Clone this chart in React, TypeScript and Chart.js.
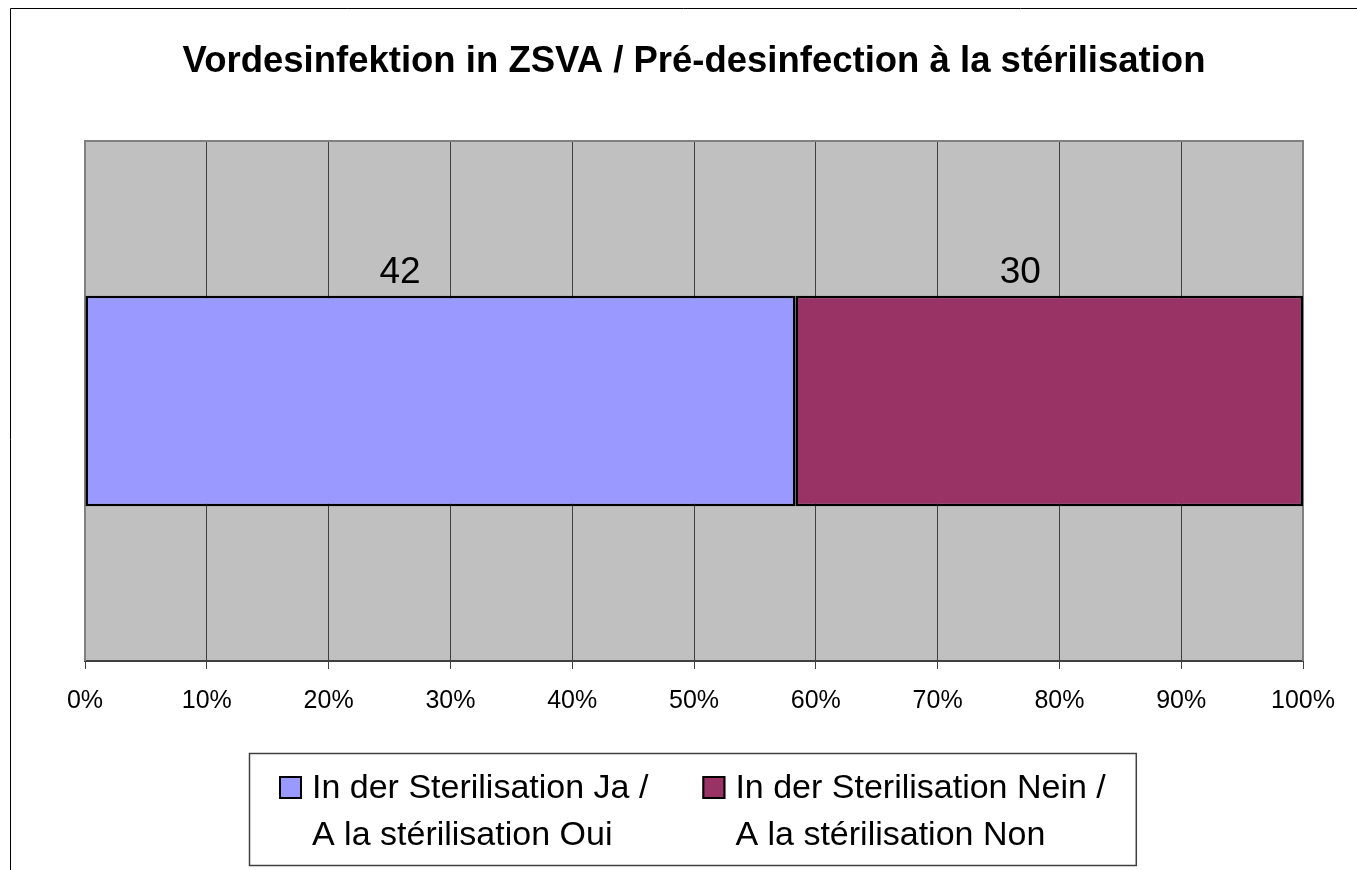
import React, { useEffect, useRef } from "react";
import { Chart, registerables } from "chart.js";

Chart.register(...registerables);

const titleText = "Vordesinfektion in ZSVA / Pré-desinfection à la stérilisation";
const categories = [""];
const seriesLabels = [
  ["In der Sterilisation Ja /", "A la stérilisation Oui"],
  ["In der Sterilisation Nein /", "A la stérilisation Non"],
];
const seriesValues = [42, 30];
const seriesColors = ["#9999FF", "#993366"];
const xTickLabels = ["0%", "10%", "20%", "30%", "40%", "50%", "60%", "70%", "80%", "90%", "100%"];

const FONT = "'Liberation Sans', Arial, sans-serif";

const total = seriesValues.reduce((a, b) => a + b, 0);

const decorPlugin = {
  id: "decor",
  beforeDraw(chart: any) {
    const { ctx, chartArea: a } = chart;
    ctx.save();
    ctx.fillStyle = "#ffffff";
    ctx.fillRect(0, 0, chart.width, chart.height);
    ctx.strokeStyle = "#000000";
    ctx.lineWidth = 1;
    ctx.beginPath();
    ctx.moveTo(10.5, chart.height);
    ctx.lineTo(10.5, 8.5);
    ctx.lineTo(chart.width, 8.5);
    ctx.stroke();
    ctx.fillStyle = "#C0C0C0";
    ctx.fillRect(a.left, a.top, a.right - a.left, a.bottom - a.top);
    ctx.restore();
  },
  beforeDatasetsDraw(chart: any) {
    const { ctx, chartArea: a } = chart;
    ctx.save();
    ctx.strokeStyle = "#808080";
    ctx.lineWidth = 2;
    ctx.beginPath();
    ctx.moveTo(a.left, a.bottom);
    ctx.lineTo(a.left, a.top);
    ctx.lineTo(a.right, a.top);
    ctx.lineTo(a.right, a.bottom);
    ctx.stroke();
    ctx.restore();
  },
  afterDatasetsDraw(chart: any) {
    const { ctx } = chart;
    ctx.save();
    ctx.font = `37px ${FONT}`;
    ctx.fillStyle = "#000000";
    ctx.textAlign = "center";
    ctx.textBaseline = "alphabetic";
    chart.data.datasets.forEach((ds: any, i: number) => {
      const meta = chart.getDatasetMeta(i);
      meta.data.forEach((bar: any) => {
        const p = bar.getProps(["x", "y", "base", "height"], true);
        const lx = p.base + (p.x - p.base) * 0.443;
        const ly = p.y - p.height / 2 - 13;
        ctx.fillText(String(seriesValues[i]), lx, ly);
      });
    });
    ctx.restore();
  },
  afterDraw(chart: any) {
    const { ctx, chartArea: a } = chart;
    ctx.save();
    ctx.font = `34px ${FONT}`;
    const padX = 30;
    const sw = 23;
    const gap = 10;
    const itemGap = 54;
    const widths = seriesLabels.map((lines) =>
      Math.max(...lines.map((l) => ctx.measureText(l).width))
    );
    let boxW = padX * 2;
    widths.forEach((w, i) => {
      boxW += sw + gap + w + (i > 0 ? itemGap : 0);
    });
    const boxH = 112;
    const cx = (a.left + a.right) / 2 - 2;
    const boxL = Math.round(cx - boxW / 2);
    const boxT = a.bottom + 92;
    ctx.fillStyle = "#ffffff";
    ctx.fillRect(boxL, boxT, boxW, boxH);
    ctx.strokeStyle = "#404040";
    ctx.lineWidth = 1.5;
    ctx.strokeRect(boxL + 0.5, boxT + 0.5, boxW, boxH);
    let x = boxL + padX;
    chart.data.datasets.forEach((ds: any, i: number) => {
      ctx.fillStyle = ds.backgroundColor;
      ctx.fillRect(x, boxT + 23, sw, sw);
      ctx.strokeStyle = "#000000";
      ctx.lineWidth = 2;
      ctx.strokeRect(x + 1, boxT + 24, sw - 2, sw - 2);
      ctx.fillStyle = "#000000";
      ctx.textAlign = "left";
      ctx.textBaseline = "alphabetic";
      seriesLabels[i].forEach((line, k) => {
        ctx.fillText(line, x + sw + gap, boxT + 45 + k * 47);
      });
      x += sw + gap + widths[i] + itemGap;
    });
    ctx.restore();
  },
};

export default function App() {
  const ref = useRef<HTMLCanvasElement | null>(null);
  useEffect(() => {
    if (!ref.current) return;
    Chart.defaults.font.family = FONT;
    const chart = new Chart(ref.current, {
      type: "bar",
      data: {
        labels: categories,
        datasets: seriesValues.map((v, i) => ({
          label: seriesLabels[i].join(" "),
          data: [(v / total) * 100],
          backgroundColor: seriesColors[i],
          borderColor: "#000000",
          borderWidth: 2.5,
          borderSkipped: false,
          barPercentage: 0.405,
          categoryPercentage: 1,
        })),
      },
      options: {
        indexAxis: "y",
        responsive: false,
        animation: false,
        layout: { padding: { left: 85, right: 54, top: 0, bottom: 137 } },
        plugins: {
          legend: { display: false },
          tooltip: { enabled: false },
          title: {
            display: true,
            text: titleText,
            color: "#000000",
            font: { size: 36.5, weight: "bold", family: FONT },
            padding: { top: 40, bottom: 57.2 },
          },
        },
        scales: {
          x: {
            stacked: true,
            min: 0,
            max: 100,
            ticks: {
              stepSize: 10,
              color: "#000000",
              font: { size: 25, family: FONT },
              padding: 17,
              maxRotation: 0,
              callback: (_v: any, idx: number) => xTickLabels[idx],
            },
            grid: {
              color: "#404040",
              lineWidth: 1,
              tickLength: 8,
              drawTicks: true,
            },
            border: { display: true, color: "#404040", width: 2 },
          },
          y: {
            stacked: true,
            display: false,
          },
        },
      },
      plugins: [decorPlugin],
    } as any);
    return () => chart.destroy();
  }, []);
  return (
    <div style={{ position: "absolute", left: 0, top: 0, width: 1357, height: 870 }}>
      <canvas ref={ref} width={1357} height={870} />
    </div>
  );
}
